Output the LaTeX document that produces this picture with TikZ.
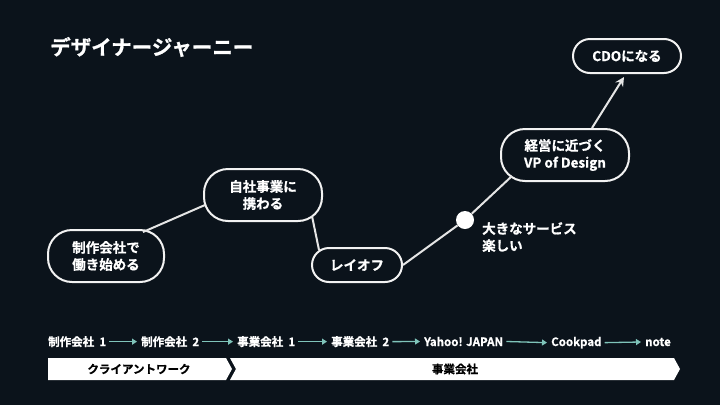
\documentclass[tikz,border=0pt]{standalone}
\usepackage{fontspec}
\setmainfont{Noto Sans CJK JP Bold}[FakeBold=0.8]
\usetikzlibrary{positioning,arrows.meta}
\definecolor{bg}{HTML}{0B131B}
\definecolor{teal}{HTML}{7FC4BA}
\tikzset{
  milestone/.style={draw=white!90!gray, line width=2pt, rounded corners=24pt, fill=bg,
    text=white, font=\fontsize{13.5}{17}\selectfont, align=center, inner sep=0pt},
  link/.style={draw=white!80!gray, line width=2pt},
  stage/.style={text=white, font=\fontsize{11.5}{12}\selectfont, anchor=base west, inner sep=0pt},
  flow/.style={-{Triangle[length=5pt,width=6pt]}, teal, line width=1.3pt}
}
\begin{document}
\begin{tikzpicture}[x=1pt, y=-1pt]
  \fill[bg] (0,0) rectangle (720,405);
  \useasboundingbox (0,0) rectangle (720,405);
  % Title
  \node[anchor=west, text=white, font=\fontsize{20.5}{22}\selectfont, inner sep=0pt] (title) at (50,47) {デザイナージャーニー};
  % Journey
  \node[milestone, minimum width=116pt, minimum height=52pt] (start) at (106,256) {制作会社で\\働き始める};
  \node[milestone, minimum width=118pt, minimum height=52pt] (own) at (263,195) {自社事業に\\携わる};
  \node[milestone, minimum width=90pt, minimum height=34pt, rounded corners=17pt] (layoff) at (357,265) {レイオフ};
  \node[circle, fill=white, minimum size=18pt, inner sep=0pt] (big) at (465,220) {};
  \node[anchor=north west, text=white, align=left, font=\fontsize{13.5}{17}\selectfont, inner sep=0pt] (bigtxt) at (482,222) {大きなサービス\\楽しい};
  \node[milestone, minimum width=128pt, minimum height=52pt] (vp) at (565,155) {経営に近づく\\VP of Design};
  \node[milestone, minimum width=108pt, minimum height=34pt, rounded corners=17pt] (cdo) at (627,56) {CDOになる};
  \draw[link] ([shift={(-22,3)}]start.north east) -- ([shift={(2,10)}]own.west);
  \draw[link] ([shift={(-11,-6)}]own.south east) -- ([shift={(8,3)}]layoff.north west);
  \draw[link] (layoff.east) -- (big);
  \draw[link] (big) -- ([shift={(12,-6)}]vp.south west);
  \draw[link, -{Stealth[length=9pt,width=9pt]}] ([shift={(-38,0)}]vp.north east) -- ([shift={(-3,3)}]cdo.south);
  % Timeline
  \foreach \t/\x [count=\i] in {制作会社\ \ 1/48,制作会社\ \ 2/141,事業会社\ \ 1/237,事業会社\ \ 2/331}
    \node[stage] (c\i) at (\x,346) {\t};
  \node[stage] (c5) at (424,346) {Yahoo! JAPAN};
  \node[stage] (c6) at (551,346) {Cookpad};
  \node[stage] (c7) at (645,346) {note};
  \foreach \a/\b in {c1/c2,c2/c3,c3/c4,c4/c5,c5/c6,c6/c7}
    \draw[flow] ([xshift=3pt]\a.east) -- ([xshift=-4pt]\b.west);
  % Phases
  \fill[white] (48,358) -- (226,358) -- (232,369) -- (226,380) -- (48,380) -- cycle;
  \fill[white] (230,358) -- (674,358) -- (680,369) -- (674,380) -- (230,380) -- (236,369) -- cycle;
  \node[text=black, font=\fontsize{11.5}{12}\selectfont] (client) at (139,369) {クライアントワーク};
  \node[text=black, font=\fontsize{11.5}{12}\selectfont] (biz) at (455,369) {事業会社};
\end{tikzpicture}
\end{document}
